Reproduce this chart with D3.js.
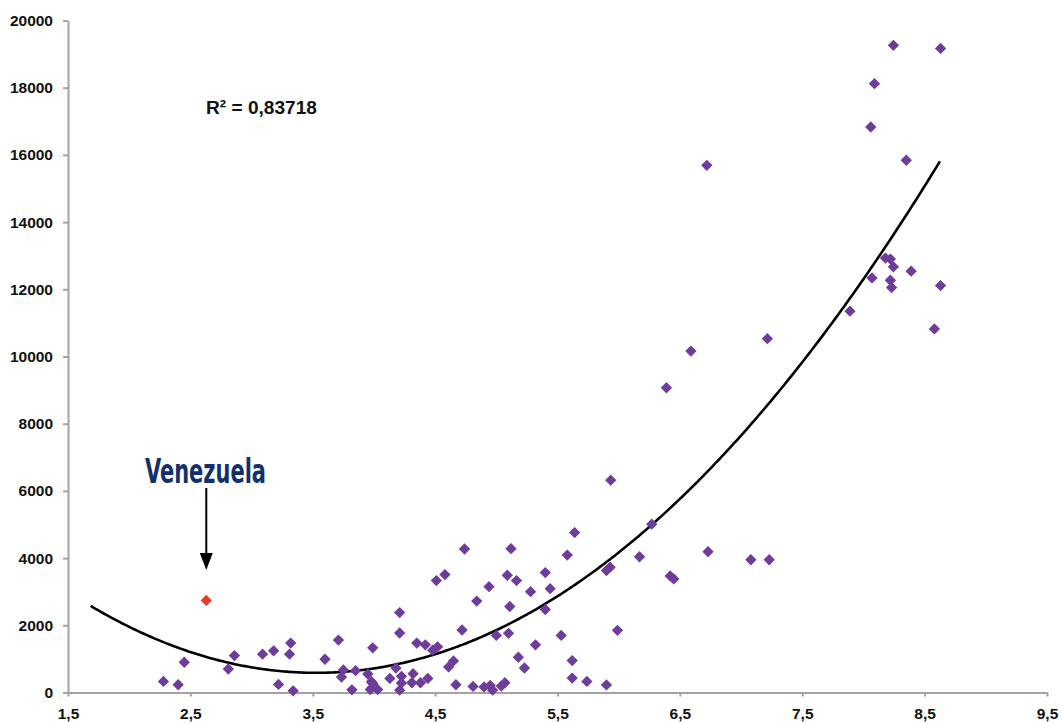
<!DOCTYPE html>
<html>
<head>
<meta charset="utf-8">
<script src="https://cdn.jsdelivr.net/npm/d3@7"></script>
<style>
  body { margin: 0; background: #fff; }
  svg { display: block; }
  .axis path, .axis line { stroke: #a3a3a3; stroke-width: 2px; }
  .axis text { font-family: "Liberation Sans", Arial, sans-serif; font-weight: bold; font-size: 15.5px; fill: #111; }
</style>
</head>
<body>
<svg width="1062" height="723"></svg>
<script>
// values
const xs = [2.28, 2.40, 2.45, 2.81, 2.86, 3.09, 3.18, 3.22, 3.32, 3.31, 3.34, 3.60, 3.71, 3.735, 3.75,
  3.85, 3.82, 3.95, 3.99, 3.98, 3.99, 4.03, 3.97, 4.13, 4.18, 4.21, 4.21, 4.225, 4.225, 4.21,
  4.32, 4.31, 4.35, 4.42, 4.38, 4.44, 4.48, 4.52, 4.51, 4.58, 4.61, 4.65, 4.67, 4.72, 4.74,
  4.81, 4.84, 4.90, 4.94, 4.95, 4.97, 5.00, 5.04, 5.07, 5.09, 5.12, 5.11, 5.10, 5.165, 5.18,
  5.23, 5.28, 5.32, 5.40, 5.40, 5.44, 5.53, 5.58, 5.64, 5.62, 5.62, 5.74, 5.90, 5.90, 5.93,
  5.935, 5.99, 6.17, 6.27, 6.39, 6.42, 6.45, 6.59, 6.72, 6.73, 7.08, 7.23, 7.215, 7.89, 8.06,
  8.09, 8.245, 8.63, 8.35, 8.18, 8.22, 8.245, 8.39, 8.07, 8.22, 8.23, 8.63, 8.58];
const ys = [330, 230, 900, 700, 1100, 1140, 1240, 240, 1470, 1140, 50, 990, 1560, 460, 670,
  650, 80, 550, 1330, 320, 270, 90, 90, 420, 730, 2380, 1770, 480, 280, 70,
  560, 290, 1470, 1420, 290, 420, 1260, 1360, 3330, 3510, 760, 940, 230, 1860, 4270,
  180, 2720, 165, 3150, 210, 70, 1700, 190, 290, 3490, 4280, 2560, 1760, 3330, 1050,
  730, 3000, 1420, 3570, 2470, 3090, 1700, 4090, 4760, 950, 430, 330, 225, 3630, 3730,
  6320, 1850, 4040, 5010, 9070, 3470, 3380, 10160, 15690, 4190, 3950, 3950, 10530, 11350, 16830,
  18120, 19260, 19170, 15840, 12930, 12900, 12670, 12540, 12340, 12270, 12050, 12110, 10820];

const venezuela = [2.63, 2740];

// 2nd order trend line: y = a*x^2 + b*x + c
const trendCoef = [586, -4135, 7880];
const trendRange = [1.685, 8.625];
const r2Label = "R² = 0,83718";

const xTicks = [1.5, 2.5, 3.5, 4.5, 5.5, 6.5, 7.5, 8.5, 9.5];
const yTicks = d3.range(0, 20001, 2000);

const svg = d3.select("svg");

const x = d3.scaleLinear().domain([1.5, 9.5]).range([68, 1047]);
const y = d3.scaleLinear().domain([0, 20000]).range([692.5, 20.5]);

const fmt = d3.formatLocale({ decimal: ",", thousands: "", grouping: [3], currency: ["", ""] }).format(".1f");

svg.append("g")
  .attr("class", "axis")
  .attr("transform", `translate(0,${y(0)})`)
  .call(d3.axisBottom(x).tickValues(xTicks).tickFormat(fmt).tickSize(4).tickSizeOuter(0).tickPadding(11));

svg.append("g")
  .attr("class", "axis")
  .attr("transform", `translate(${x(1.5)},0)`)
  .call(d3.axisLeft(y).tickValues(yTicks).tickFormat(d3.format("d")).tickSize(5).tickSizeOuter(0).tickPadding(10));

// trend line
const trend = (v) => trendCoef[0] * v * v + trendCoef[1] * v + trendCoef[2];
const tx = d3.range(trendRange[0], trendRange[1], 0.02).concat([trendRange[1]]);
svg.append("path")
  .datum(tx)
  .attr("fill", "none")
  .attr("stroke", "#000")
  .attr("stroke-width", 2.6)
  .attr("d", d3.line().x((d) => x(d)).y((d) => y(trend(d))).curve(d3.curveBasis));

// points
const diamond = d3.symbol().type(d3.symbolSquare).size(64);
svg.append("g")
  .selectAll("path")
  .data(d3.zip(xs, ys))
  .enter()
  .append("path")
    .attr("d", diamond)
    .attr("transform", (d) => `translate(${x(d[0])},${y(d[1])}) rotate(45)`)
    .attr("fill", "#6e3d9c");

svg.append("path")
  .attr("d", diamond)
  .attr("transform", `translate(${x(venezuela[0])},${y(venezuela[1])}) rotate(45)`)
  .attr("fill", "#ee3a22");

// R² label
svg.append("text")
  .attr("x", 206)
  .attr("y", 114)
  .attr("font-family", "Liberation Sans, Arial, sans-serif")
  .attr("font-weight", "bold")
  .attr("font-size", 18.5)
  .attr("textLength", 111)
  .attr("lengthAdjust", "spacingAndGlyphs")
  .attr("fill", "#111")
  .text(r2Label);

// Venezuela annotation
const ax = x(venezuela[0]);
svg.append("text")
  .attr("x", 145)
  .attr("y", 483)
  .attr("font-family", "Liberation Sans Narrow, DejaVu Sans Condensed, sans-serif")
  .attr("font-weight", "bold")
  .attr("font-size", 34)
  .attr("textLength", 121)
  .attr("lengthAdjust", "spacingAndGlyphs")
  .attr("fill", "#13306b")
  .text("Venezuela");

svg.append("line")
  .attr("x1", ax).attr("x2", ax)
  .attr("y1", 488).attr("y2", 560)
  .attr("stroke", "#000")
  .attr("stroke-width", 2);

svg.append("path")
  .attr("d", d3.line()([[ax - 6.5, 553], [ax + 6.5, 553], [ax, 570]]))
  .attr("fill", "#000");
</script>
</body>
</html>
